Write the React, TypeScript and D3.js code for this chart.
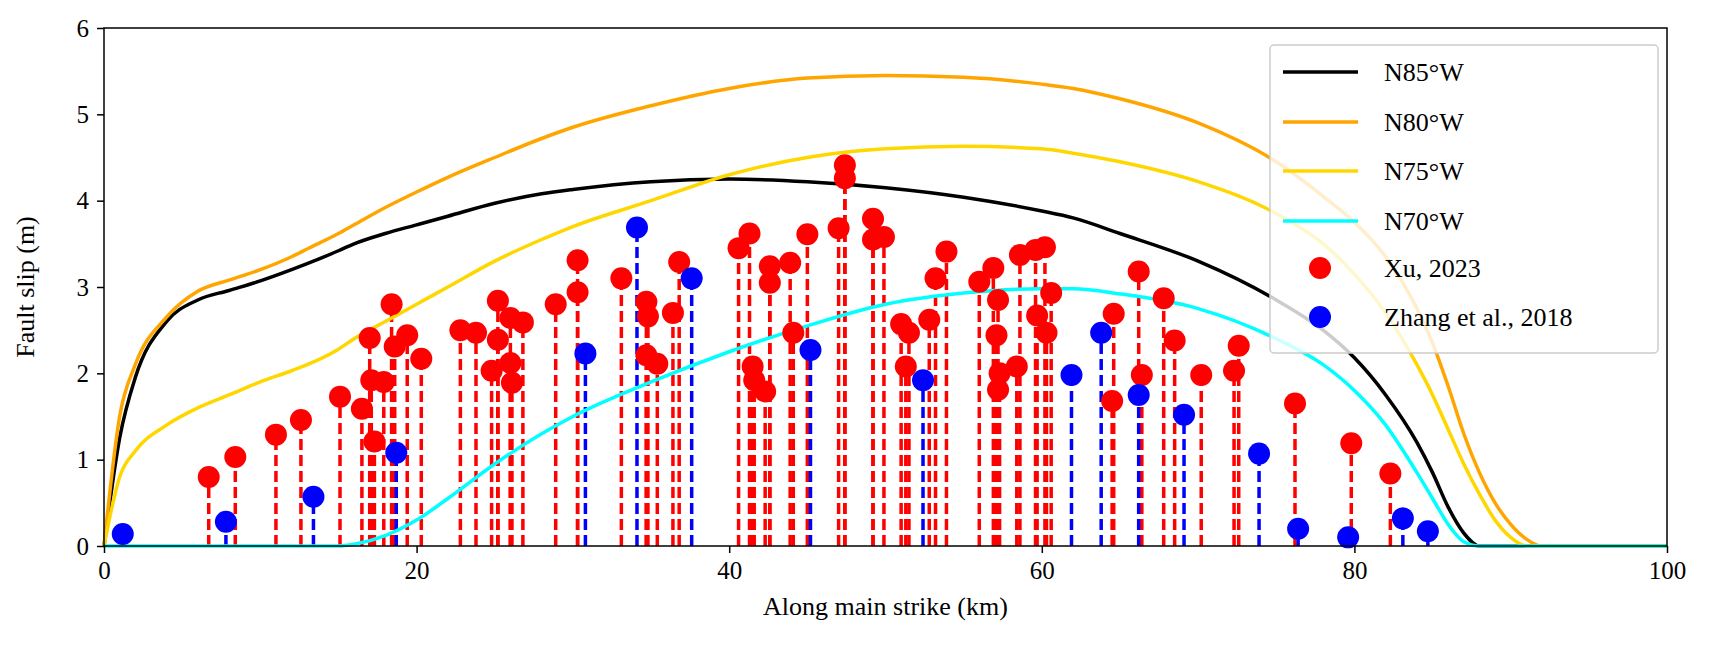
import * as d3 from 'd3';
import { useEffect, useRef } from 'react';

const curveX = [0, 1, 2, 4, 6, 8, 10, 12, 13, 15, 16, 18, 20, 22, 25, 28, 30, 35, 40, 45, 50, 55, 60, 62, 65, 70, 75, 78, 80, 82, 84, 85, 86, 87, 88, 89, 90, 91, 92, 100];
const n85 = [0, 1.25, 1.95, 2.6, 2.85, 2.96, 3.07, 3.2, 3.27, 3.42, 3.5, 3.62, 3.72, 3.82, 3.97, 4.08, 4.13, 4.22, 4.25, 4.22, 4.15, 4.04, 3.88, 3.8, 3.62, 3.3, 2.85, 2.5, 2.18, 1.75, 1.2, 0.85, 0.45, 0.15, 0, 0, 0, 0, 0, 0];
const n80 = [0, 1.5, 2.1, 2.65, 2.95, 3.08, 3.2, 3.35, 3.44, 3.62, 3.72, 3.92, 4.1, 4.27, 4.5, 4.72, 4.85, 5.1, 5.3, 5.42, 5.45, 5.43, 5.35, 5.3, 5.18, 4.9, 4.45, 4.05, 3.75, 3.35, 2.75, 2.35, 1.85, 1.3, 0.85, 0.5, 0.25, 0.08, 0, 0];
const n75 = [0, 0.8, 1.1, 1.4, 1.6, 1.75, 1.9, 2.03, 2.1, 2.28, 2.4, 2.6, 2.8, 3.0, 3.3, 3.55, 3.7, 4.0, 4.3, 4.5, 4.6, 4.63, 4.6, 4.55, 4.45, 4.22, 3.85, 3.5, 3.15, 2.7, 2.1, 1.75, 1.35, 0.95, 0.6, 0.3, 0.1, 0, 0, 0];
const n70 = [0, 0, 0, 0, 0, 0, 0, 0, 0, 0, 0.02, 0.12, 0.3, 0.55, 0.95, 1.3, 1.5, 1.9, 2.25, 2.55, 2.8, 2.93, 2.98, 2.98, 2.92, 2.75, 2.4, 2.1, 1.8, 1.4, 0.85, 0.55, 0.25, 0.05, 0, 0, 0, 0, 0, 0];

const xuX = [6.7, 8.4, 11.0, 12.6, 15.1, 16.5, 17.0, 17.1, 17.3, 17.9, 18.4, 18.6, 19.4, 20.3, 22.8, 23.8, 25.2, 25.2, 24.8, 26.0, 26.0, 26.1, 26.8, 28.9, 30.3, 30.3, 33.1, 34.7, 34.8, 34.7, 35.4, 36.4, 36.8, 40.6, 41.3, 41.5, 41.6, 42.3, 42.6, 42.6, 43.9, 44.1, 45.0, 47.4, 47.4, 47.0, 49.2, 49.2, 49.9, 51.0, 51.5, 51.3, 52.8, 53.2, 53.9, 56.0, 56.9, 57.2, 57.1, 57.2, 58.4, 57.3, 58.6, 59.6, 60.2, 59.7, 60.3, 60.6, 64.6, 64.5, 66.2, 66.4, 67.8, 68.5, 70.2, 72.6, 72.3, 76.2, 79.8, 82.3];
const xuY = [0.80, 1.03, 1.29, 1.46, 1.73, 1.59, 2.41, 1.92, 1.21, 1.90, 2.80, 2.31, 2.44, 2.17, 2.50, 2.47, 2.84, 2.39, 2.03, 2.64, 2.12, 1.89, 2.59, 2.80, 2.94, 3.31, 3.10, 2.83, 2.66, 2.21, 2.11, 2.70, 3.29, 3.45, 3.62, 2.08, 1.92, 1.79, 3.24, 3.05, 3.28, 2.47, 3.61, 4.41, 4.26, 3.68, 3.79, 3.55, 3.58, 2.57, 2.47, 2.08, 2.62, 3.10, 3.41, 3.06, 3.22, 2.85, 2.44, 1.81, 2.08, 2.00, 3.37, 3.43, 3.46, 2.67, 2.47, 2.93, 2.69, 1.68, 3.18, 1.98, 2.87, 2.38, 1.98, 2.32, 2.03, 1.65, 1.19, 0.84];

const zhX = [1.2, 7.8, 13.4, 18.7, 30.8, 34.1, 37.6, 45.2, 52.4, 61.9, 63.8, 66.2, 69.1, 73.9, 76.4, 79.6, 83.1, 84.7];
const zhY = [0.14, 0.28, 0.57, 1.08, 2.23, 3.69, 3.10, 2.27, 1.92, 1.98, 2.47, 1.75, 1.52, 1.07, 0.2, 0.1, 0.32, 0.17];

const series = [
  { name: 'N85\u00b0W', color: '#000000', values: n85 },
  { name: 'N80\u00b0W', color: '#ffa500', values: n80 },
  { name: 'N75\u00b0W', color: '#ffd700', values: n75 },
  { name: 'N70\u00b0W', color: '#00ffff', values: n70 },
];

export default function App() {
  const ref = useRef<SVGSVGElement | null>(null);

  useEffect(() => {
    if (!ref.current) return;
    const width = 1709;
    const height = 665;
    const svg = d3.select(ref.current);
    svg.selectAll('*').remove();
    const font = '"Liberation Serif", "Times New Roman", serif';

    const x = d3.scaleLinear().domain([0, 100]).range([104, 1667]);
    const y = d3.scaleLinear().domain([0, 6]).range([546, 28]);

    const g = svg.append('g');

    // stems
    const stems = (xs: number[], ys: number[], color: string) =>
      g.append('g')
        .selectAll('line')
        .data(xs.map((v, i) => [v, ys[i]]))
        .enter()
        .append('line')
        .attr('x1', (d) => x(d[0]))
        .attr('x2', (d) => x(d[0]))
        .attr('y1', y(0))
        .attr('y2', (d) => y(d[1]))
        .attr('stroke', color)
        .attr('stroke-width', 3.5)
        .attr('stroke-dasharray', '11,5');
    stems(xuX, xuY, '#ff0000');
    stems(zhX, zhY, '#0000ff');

    // curves
    series.forEach((s) => {
      const line = d3
        .line<number>()
        .x((_, i) => x(curveX[i]))
        .y((d) => y(d))
        .curve(d3.curveMonotoneX);
      g.append('path')
        .datum(s.values)
        .attr('d', line)
        .attr('fill', 'none')
        .attr('stroke', s.color)
        .attr('stroke-width', 3.5);
    });

    // markers
    const dots = (xs: number[], ys: number[], color: string) =>
      g.append('g')
        .selectAll('circle')
        .data(xs.map((v, i) => [v, ys[i]]))
        .enter()
        .append('circle')
        .attr('cx', (d) => x(d[0]))
        .attr('cy', (d) => y(d[1]))
        .attr('r', 11)
        .attr('fill', color);
    dots(xuX, xuY, '#ff0000');
    dots(zhX, zhY, '#0000ff');

    // axes
    const xAxis = svg.append('g')
      .attr('transform', `translate(0,${y(0)})`)
      .call(d3.axisBottom(x).tickValues([0, 20, 40, 60, 80, 100]).tickSize(7).tickPadding(8));
    const yAxis = svg.append('g')
      .attr('transform', `translate(${x(0)},0)`)
      .call(d3.axisLeft(y).ticks(6).tickSize(7).tickPadding(8));
    [xAxis, yAxis].forEach((a) => {
      a.selectAll('text').attr('font-family', font).attr('font-size', 25).attr('fill', '#000');
      a.selectAll('line').attr('stroke', '#000').attr('stroke-width', 1.5);
      a.select('.domain').remove();
    });
    svg.append('rect')
      .attr('x', x(0)).attr('y', y(6))
      .attr('width', x(100) - x(0)).attr('height', y(0) - y(6))
      .attr('fill', 'none').attr('stroke', '#000').attr('stroke-width', 1.5);

    svg.append('text')
      .attr('x', (x(0) + x(100)) / 2).attr('y', 615)
      .attr('text-anchor', 'middle')
      .attr('font-family', font).attr('font-size', 26)
      .text('Along main strike (km)');
    svg.append('text')
      .attr('transform', `translate(34,${(y(0) + y(6)) / 2}) rotate(-90)`)
      .attr('text-anchor', 'middle')
      .attr('font-family', font).attr('font-size', 26)
      .text('Fault slip (m)');

    // legend
    const lg = svg.append('g');
    lg.append('rect')
      .attr('x', 1270).attr('y', 45).attr('width', 388).attr('height', 308)
      .attr('rx', 4)
      .attr('fill', 'rgba(255,255,255,0.8)')
      .attr('stroke', '#cccccc').attr('stroke-width', 1.5);
    const rowY = [72, 122, 171, 221, 268, 317];
    series.forEach((s, i) => {
      lg.append('line')
        .attr('x1', 1283).attr('x2', 1358)
        .attr('y1', rowY[i]).attr('y2', rowY[i])
        .attr('stroke', s.color).attr('stroke-width', 3.5);
    });
    lg.append('circle').attr('cx', 1320).attr('cy', rowY[4]).attr('r', 11).attr('fill', '#ff0000');
    lg.append('circle').attr('cx', 1320).attr('cy', rowY[5]).attr('r', 11).attr('fill', '#0000ff');
    const labels = [...series.map((s) => s.name), 'Xu, 2023', 'Zhang et al., 2018'];
    labels.forEach((t, i) => {
      lg.append('text')
        .attr('x', 1384).attr('y', rowY[i] + 9)
        .attr('font-family', font).attr('font-size', 26)
        .text(t);
    });

    svg.attr('width', width).attr('height', height);
  }, []);

  return (
    <svg
      ref={ref}
      width={1709}
      height={665}
      style={{ position: 'absolute', left: 0, top: 0, background: '#fff' }}
    />
  );
}
